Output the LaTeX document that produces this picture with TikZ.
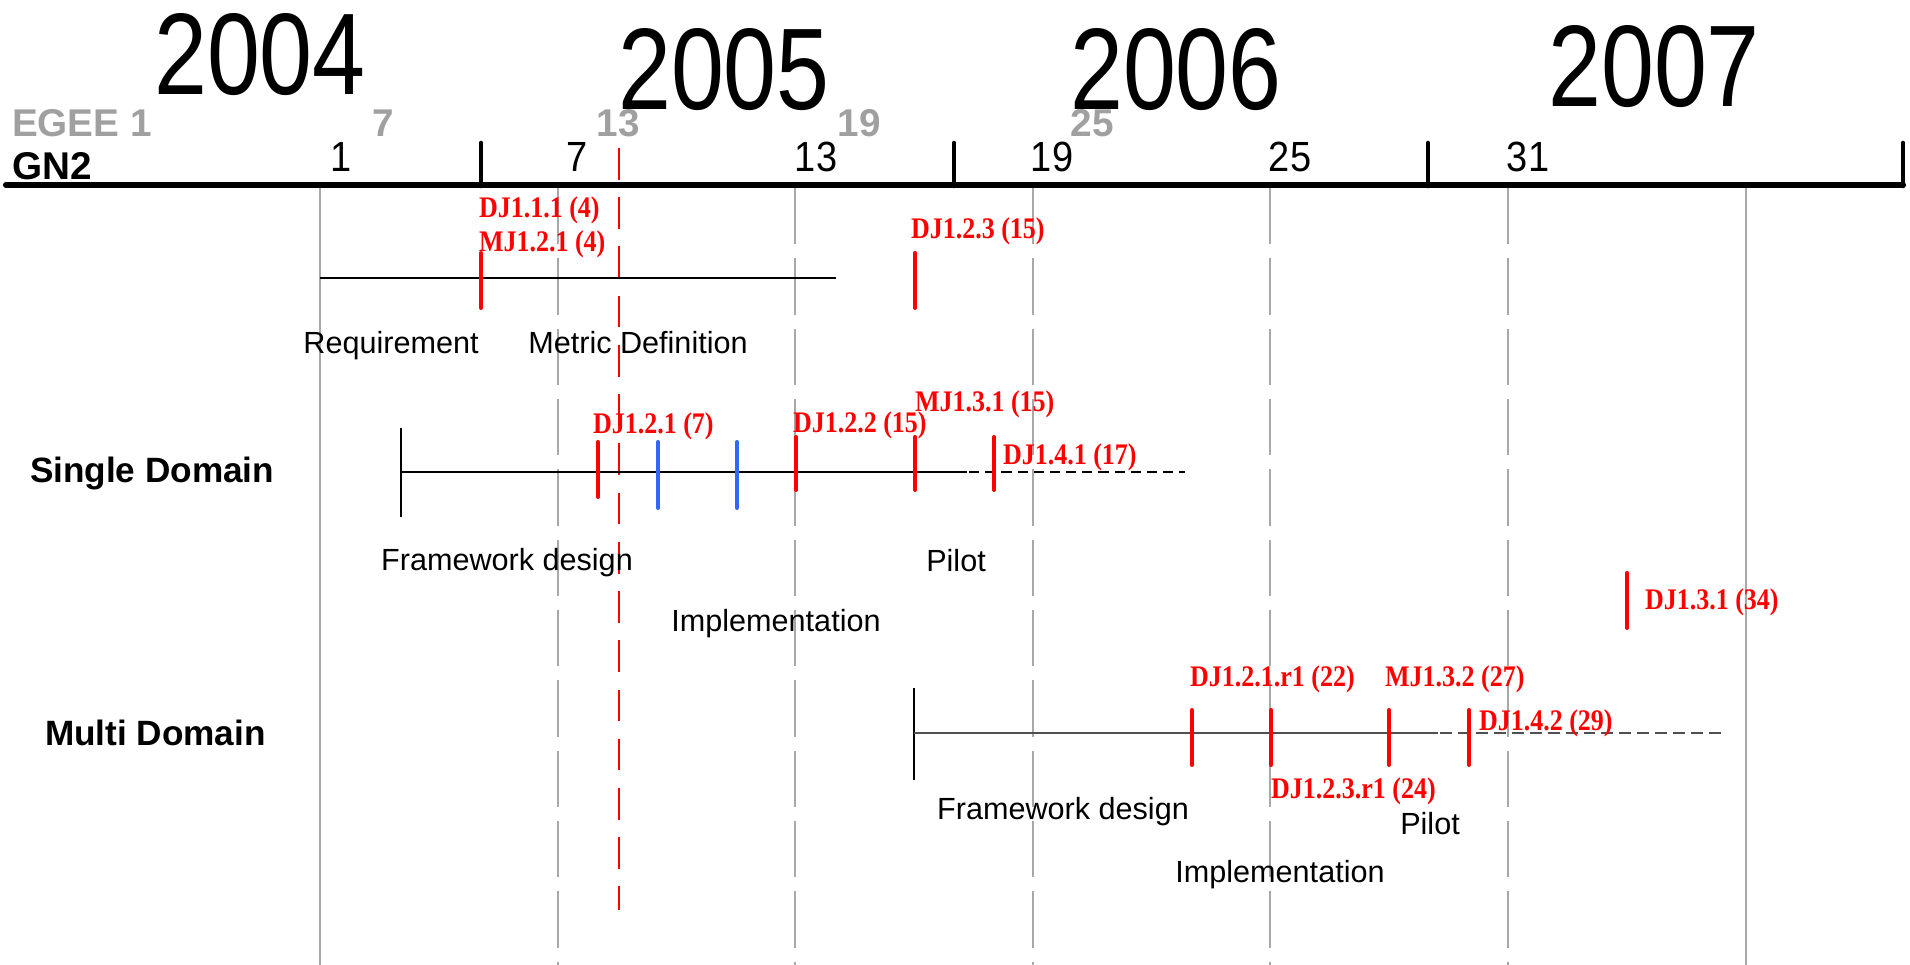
\documentclass[tikz,border=0pt]{standalone}
\usepackage{fontspec}
\setmainfont{Liberation Sans}
\newfontfamily\yearfont{Liberation Sans}[FakeStretch=0.82]
\newfontfamily\numfont{Liberation Sans}[FakeStretch=0.9]
\newfontfamily\msfont{Liberation Serif}[FakeStretch=0.87]
\definecolor{egeegray}{HTML}{A0A0A0}
\definecolor{gridgray}{HTML}{A8A8A8}
\definecolor{msred}{HTML}{FF0000}
\definecolor{msblue}{HTML}{3366FF}
\definecolor{mdline}{HTML}{505050}
\begin{document}
\begin{tikzpicture}[x=0.01cm,y=-0.01cm,
  every node/.style={inner sep=0pt,outer sep=0pt},
  year/.style={font=\yearfont\fontsize{33}{33}\selectfont,anchor=base},
  egee/.style={font=\bfseries\fontsize{11}{11}\selectfont,text=egeegray,anchor=base},
  gnnum/.style={font=\numfont\fontsize{12}{12}\selectfont,anchor=base},
  rowlabel/.style={font=\bfseries\fontsize{10}{10}\selectfont,anchor=base west},
  phase/.style={font=\fontsize{8.7}{8.7}\selectfont,anchor=base},
  mslabel/.style={font=\msfont\bfseries\fontsize{8.5}{8.5}\selectfont,text=msred,anchor=base west},
  axisline/.style={line width=1.75pt,line cap=round},
  yeartick/.style={line width=1.3pt,line cap=round},
  gridsolid/.style={draw=gridgray,line width=0.45pt},
  griddash/.style={draw=gridgray,line width=0.45pt,dash pattern=on 16pt off 4pt},
  redtick/.style={draw=msred,line width=1.15pt,line cap=round},
  bluetick/.style={draw=msblue,line width=1.15pt,line cap=round},
  taskline/.style={draw=black,line width=0.55pt},
  taskdash/.style={draw=black,line width=0.7pt,dash pattern=on 2.9pt off 1.7pt},
  mdtask/.style={draw=mdline,line width=0.65pt},
  mddash/.style={draw=mdline,line width=0.85pt,dash pattern=on 3.4pt off 1.7pt},
  starttick/.style={draw=black,line width=0.45pt}
]
\useasboundingbox (0,0) rectangle (1910,965);

% grid lines (months of GN2)
\draw[gridsolid] (320,188) -- (320,965);
\draw[gridsolid] (1746,188) -- (1746,965);
\foreach \x in {558,795,1033,1270,1508}
  \draw[griddash] (\x,188) -- (\x,965);

% red dashed line (today)
\draw[draw=msred,line width=0.4pt,dash pattern=on 9pt off 5pt] (619,148) -- (619,910);

% main time axis
\draw[axisline] (6,185) -- (1903,185);
\foreach \x in {481,954,1428,1903}
  \draw[yeartick] (\x,186) -- (\x,143);

% years
\node[year] (y2004) at (260,95) {2004};
\node[year] (y2005) at (724,110) {2005};
\node[year] (y2006) at (1176,110) {2006};
\node[year] (y2007) at (1654,107) {2007};

% EGEE months
\node[egee,anchor=base west] (egee) at (12,137) {EGEE 1};
\node[egee] (e7) at (383,137) {7};
\node[egee] (e13) at (618,137) {13};
\node[egee] (e19) at (859,137) {19};
\node[egee] (e25) at (1092,137) {25};

% GN2 months
\node[font=\bfseries\fontsize{11}{11}\selectfont,anchor=base west] (gn2) at (12,180) {GN2};
\node[gnnum] (g1) at (341,172) {1};
\node[gnnum] (g7) at (577,172) {7};
\node[gnnum] (g13) at (816,172) {13};
\node[gnnum] (g19) at (1052,172) {19};
\node[gnnum] (g25) at (1290,172) {25};
\node[gnnum] (g31) at (1528,172) {31};

% ---- row 1: requirement / metric definition
\draw[taskline] (320,278) -- (836,278);
\draw[redtick] (481,253) -- (481,308);
\draw[redtick] (915,253) -- (915,308);
\node[mslabel] (dj111) at (479,218) {DJ1.1.1 (4)};
\node[mslabel] (mj121) at (479,252) {MJ1.2.1 (4)};
\node[mslabel] (dj123) at (911,239) {DJ1.2.3 (15)};
\node[phase] (req) at (391,354) {Requirement};
\node[phase] (metric) at (638,354) {Metric Definition};

% ---- row 2: single domain
\node[rowlabel] (single) at (30,483) {Single Domain};
\draw[starttick] (401,428) -- (401,517);
\draw[taskline] (401,472) -- (967,472);
\draw[taskdash] (969,472) -- (1185,472);
\draw[redtick] (598,442) -- (598,497);
\draw[bluetick] (658,442) -- (658,508);
\draw[bluetick] (737,442) -- (737,508);
\draw[redtick] (796,437) -- (796,490);
\draw[redtick] (915,437) -- (915,490);
\draw[redtick] (994,437) -- (994,490);
\node[mslabel] (dj121) at (593,434) {DJ1.2.1 (7)};
\node[mslabel] (dj122) at (793,433) {DJ1.2.2 (15)};
\node[mslabel] (mj131) at (915,412) {MJ1.3.1 (15)};
\node[mslabel] (dj141) at (1003,465) {DJ1.4.1 (17)};
\node[phase] (fw1) at (507,571) {Framework design};
\node[phase] (pilot1) at (956,572) {Pilot};
\node[phase] (impl1) at (776,632) {Implementation};

% ---- row 3: final deliverable
\draw[redtick] (1627,573) -- (1627,628);
\node[mslabel] (dj131) at (1645,610) {DJ1.3.1 (34)};

% ---- row 4: multi domain
\node[rowlabel] (multi) at (45,746) {Multi Domain};
\draw[starttick] (914,688) -- (914,780);
\draw[mdtask] (914,733) -- (1438,733);
\draw[mddash] (1440,733) -- (1721,733);
\draw[redtick] (1192,710) -- (1192,765);
\draw[redtick] (1271,710) -- (1271,765);
\draw[redtick] (1389,710) -- (1389,765);
\draw[redtick] (1469,710) -- (1469,765);
\node[mslabel] (dj121r1) at (1190,687) {DJ1.2.1.r1 (22)};
\node[mslabel] (mj132) at (1385,687) {MJ1.3.2 (27)};
\node[mslabel] (dj142) at (1479,731) {DJ1.4.2 (29)};
\node[mslabel] (dj123r1) at (1271,799) {DJ1.2.3.r1 (24)};
\node[phase] (fw2) at (1063,820) {Framework design};
\node[phase] (pilot2) at (1430,835) {Pilot};
\node[phase] (impl2) at (1280,883) {Implementation};
\end{tikzpicture}
\end{document}
